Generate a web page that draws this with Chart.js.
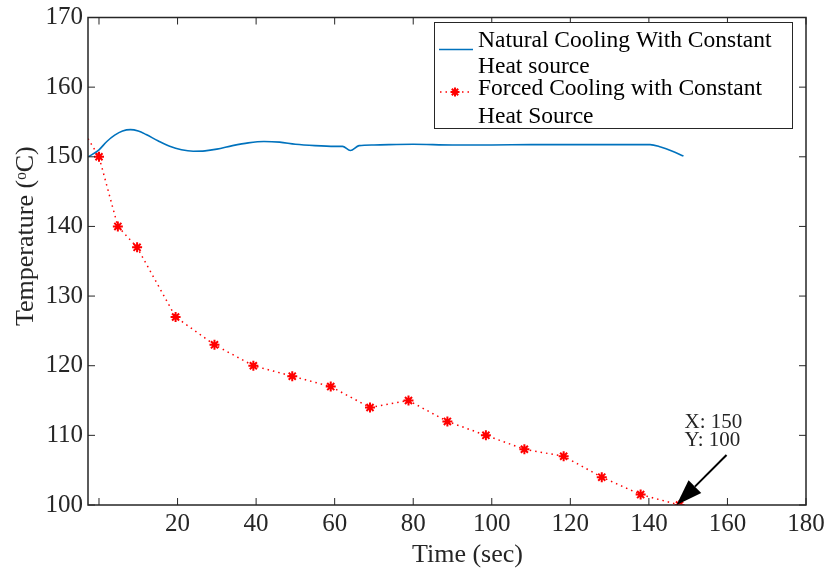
<!DOCTYPE html>
<html>
<head>
<meta charset="utf-8">
<script src="https://cdn.jsdelivr.net/npm/chart.js@4.4.1/dist/chart.umd.min.js"></script>
<style>
  html, body { margin: 0; padding: 0; background: #fff; }
  #chart { display: block; }
</style>
</head>
<body>
<canvas id="chart" width="837" height="569"></canvas>
<script>
// natural cooling
const timeNatural = [-2.7, 0, 2, 4, 6, 8, 10, 12, 15, 18, 21, 24, 27, 30, 34, 38, 42, 46, 50, 55, 60, 62, 64, 66.2, 70, 80, 90, 100, 110, 120, 130, 140.3, 143, 146, 148.8]
const tempNatural = [150.0, 151.0, 152.2, 153.1, 153.7, 153.9, 153.7, 153.2, 152.3, 151.5, 151.0, 150.8, 150.85, 151.1, 151.6, 152.0, 152.2, 152.1, 151.8, 151.6, 151.5, 151.5, 150.9, 151.6, 151.7, 151.8, 151.7, 151.7, 151.75, 151.75, 151.75, 151.75, 151.4, 150.8, 150.1]

// forced cooling (first point has no marker, line enters from the left edge)
const timeForced = [-2.8, 0, 4.8, 9.7, 19.5, 29.4, 39.3, 49.2, 59, 69, 78.8, 88.7, 98.5, 108.3, 118.3, 128, 137.9, 147.8]
const tempForced = [152.6, 150, 140, 137, 127, 123, 120, 118.5, 117, 114, 115, 112, 110, 108, 107, 104, 101.5, 100]

const xTicks = [0, 20, 40, 60, 80, 100, 120, 140, 160, 180]
const yTicks = [100, 110, 120, 130, 140, 150, 160, 170]

const legendLabels = [['Natural Cooling With Constant', 'Heat source'], ['Forced Cooling with Constant', 'Heat Source']]
const tipLabels = ['X: 150', 'Y: 100']
const xTitle = 'Time (sec)'
const yTitle = 'Temperature (ᵒC)'

const BLUE = '#0072BD'
const RED = '#FF0000'
const AXIS = '#262626'
const FONT = '"Liberation Serif", "Times New Roman", serif'

const toXY = (xs, ys) => xs.map((v, i) => ({x: v, y: ys[i]}))

function line(ctx, x1, y1, x2, y2) {
    ctx.beginPath()
    ctx.moveTo(x1, y1)
    ctx.lineTo(x2, y2)
    ctx.stroke()
}

function star(ctx, cx, cy, r) {
    ctx.beginPath()
    for (let i = 0; i < 4; i++) {
        const a = i * Math.PI / 4
        ctx.moveTo(cx - r * Math.cos(a), cy - r * Math.sin(a))
        ctx.lineTo(cx + r * Math.cos(a), cy + r * Math.sin(a))
    }
    ctx.stroke()
}

// box around the axes with inward ticks on all four sides, plus axis titles
const boxTicks = {
    id: 'boxTicks',
    afterDraw(chart) {
        const {ctx, chartArea: a, scales: {x, y}} = chart
        ctx.save()
        ctx.strokeStyle = AXIS
        ctx.lineWidth = 1.5
        ctx.strokeRect(a.left, a.top, a.width, a.height)
        ctx.lineWidth = 1
        x.ticks.forEach(t => {
            const px = x.getPixelForValue(t.value)
            line(ctx, px, a.bottom, px, a.bottom - 7)
            line(ctx, px, a.top, px, a.top + 7)
        })
        y.ticks.forEach(t => {
            const py = y.getPixelForValue(t.value)
            line(ctx, a.left, py, a.left + 7, py)
            line(ctx, a.right, py, a.right - 7, py)
        })

        ctx.fillStyle = AXIS
        ctx.font = '26px ' + FONT
        ctx.textBaseline = 'alphabetic'
        ctx.textAlign = 'left'
        ctx.fillText(xTitle, 412, 562)
        ctx.translate(33, 326)
        ctx.rotate(-Math.PI / 2)
        ctx.fillText(yTitle, 0, 0)
        ctx.restore()
    }
}

// legend box inside the plot, top right
const boxLegend = {
    id: 'boxLegend',
    afterDraw(chart) {
        const {ctx} = chart
        ctx.save()
        ctx.fillStyle = '#fff'
        ctx.fillRect(434, 22, 358, 106)
        ctx.strokeStyle = AXIS
        ctx.lineWidth = 1
        ctx.strokeRect(434.5, 22.5, 358, 106)

        ctx.font = '23.5px ' + FONT
        ctx.fillStyle = '#000'
        ctx.textBaseline = 'alphabetic'
        ctx.textAlign = 'left'
        ctx.fillText(legendLabels[0][0], 478, 47)
        ctx.fillText(legendLabels[0][1], 478, 73)
        ctx.fillText(legendLabels[1][0], 478, 95)
        ctx.fillText(legendLabels[1][1], 478, 123)

        ctx.strokeStyle = BLUE
        ctx.lineWidth = 1.5
        line(ctx, 439, 49.5, 473, 49.5)

        ctx.strokeStyle = RED
        ctx.setLineDash([1.5, 4])
        line(ctx, 440, 92, 472, 92)
        ctx.setLineDash([])
        ctx.lineWidth = 2
        star(ctx, 455, 92, 4.5)
        ctx.restore()
    }
}

// data tip on the last forced-cooling point
const dataTip = {
    id: 'dataTip',
    afterDraw(chart) {
        const {ctx, scales: {x, y}} = chart
        const n = timeForced.length - 1
        const tx = x.getPixelForValue(timeForced[n]) - 3
        const ty = y.getPixelForValue(tempForced[n])
        const sx = tx + 50, sy = ty - 50
        ctx.save()
        ctx.strokeStyle = '#000'
        ctx.fillStyle = '#000'
        ctx.lineWidth = 2
        const ang = Math.atan2(ty - sy, tx - sx)
        const hl = 26, hw = 9
        const bx = tx - hl * Math.cos(ang), by = ty - hl * Math.sin(ang)
        line(ctx, sx, sy, bx, by)
        ctx.beginPath()
        ctx.moveTo(tx, ty)
        ctx.lineTo(bx + hw * Math.sin(ang), by - hw * Math.cos(ang))
        ctx.lineTo(bx - hw * Math.sin(ang), by + hw * Math.cos(ang))
        ctx.closePath()
        ctx.fill()

        ctx.font = '21px ' + FONT
        ctx.fillStyle = AXIS
        ctx.textAlign = 'left'
        ctx.textBaseline = 'alphabetic'
        ctx.fillText(tipLabels[0], sx - 42, sy - 27)
        ctx.fillText(tipLabels[1], sx - 42, sy - 9)
        ctx.restore()
    }
}

new Chart(document.getElementById('chart'), {
    type: 'scatter',
    data: {
        datasets: [
            {
                label: legendLabels[0].join(' '),
                data: toXY(timeNatural, tempNatural),
                showLine: true,
                borderColor: BLUE,
                borderWidth: 1.6,
                pointRadius: 0,
                cubicInterpolationMode: 'monotone',
            },
            {
                label: legendLabels[1].join(' '),
                data: toXY(timeForced, tempForced),
                showLine: true,
                borderColor: RED,
                backgroundColor: RED,
                borderWidth: 1.5,
                borderDash: [1.5, 4],
                pointStyle: 'star',
                pointRadius: timeForced.map((v, i) => i === 0 ? 0 : 5),
                pointBorderWidth: 2,
            }
        ]
    },
    options: {
        responsive: false,
        animation: false,
        layout: {padding: {top: 17, right: 31, left: 0, bottom: 0}},
        plugins: {legend: {display: false}, tooltip: {enabled: false}},
        scales: {
            x: {
                type: 'linear',
                min: -2.8,
                max: 180,
                grid: {display: false, drawTicks: false},
                border: {display: false},
                afterBuildTicks: s => { s.ticks = xTicks.map(v => ({value: v})) },
                afterFit: s => { s.height = 64 },
                ticks: {
                    padding: 4,
                    color: AXIS,
                    font: {family: FONT, size: 25},
                    callback: v => v === 0 ? '' : v,
                },
            },
            y: {
                min: 100,
                max: 170,
                grid: {display: false, drawTicks: false},
                border: {display: false},
                afterBuildTicks: s => { s.ticks = yTicks.map(v => ({value: v})) },
                afterFit: s => { s.width = 88 },
                ticks: {
                    padding: 5,
                    color: AXIS,
                    font: {family: FONT, size: 25, lineHeight: 1},
                },
            }
        }
    },
    plugins: [boxTicks, boxLegend, dataTip]
})
</script>
</body>
</html>
